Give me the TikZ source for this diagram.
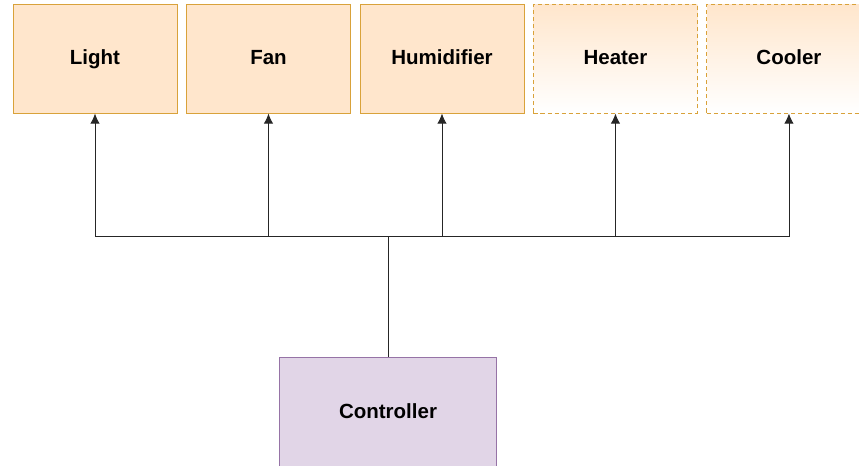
\documentclass[tikz,border=0pt]{standalone}
\usepackage{fontspec}
\setmainfont{Liberation Sans}
\usepackage{xcolor}
\usetikzlibrary{arrows.meta,positioning}

\definecolor{peach}{HTML}{FFE6CC}
\definecolor{amber}{HTML}{D9A23A}
\definecolor{lilac}{HTML}{E1D5E7}
\definecolor{plum}{HTML}{9673A6}

\begin{document}
\begin{tikzpicture}[
    node distance=0.26cm and 0.26cm,
    box/.style={rectangle, draw=amber, fill=peach, line width=0.7pt, align=center, minimum width=4.92cm, minimum height=3.27cm, text height=1.05em, text depth=0pt, font=\fontsize{17.5}{21}\selectfont\bfseries},
    optbox/.style={box, fill=none, draw=none, top color=peach, bottom color=white, postaction={draw=amber, line width=0.9pt, dash pattern=on 3.5pt off 2.5pt}},
    ctrlbox/.style={box, draw=plum, fill=lilac, minimum width=6.51cm},
    arrow/.style={-{Latex[length=3mm,width=2.8mm]}, line width=0.7pt, black!85}
]
\useasboundingbox (0,0) rectangle (25.77,-13.98);
\clip (0,0) rectangle (25.77,-13.98);
\node[box] (light) at (2.85,-1.76) {Light};
\node[box, right=of light] (fan) {Fan};
\node[box, right=of fan] (humid) {Humidifier};
\node[optbox, right=of humid] (heater) {Heater};
\node[optbox, right=of heater] (cooler) {Cooler};
\node[ctrlbox, anchor=north] (ctrl) at (11.64,-10.71) {Controller};
\coordinate (bus) at (11.64,-7.08);
\draw[arrow] (ctrl.north) -- (bus) -| (light.south);
\draw[arrow] (bus) -| (fan.south);
\draw[arrow] (bus) -| (humid.south);
\draw[arrow] (bus) -| (heater.south);
\draw[arrow] (bus) -| (cooler.south);
\end{tikzpicture}
\end{document}
